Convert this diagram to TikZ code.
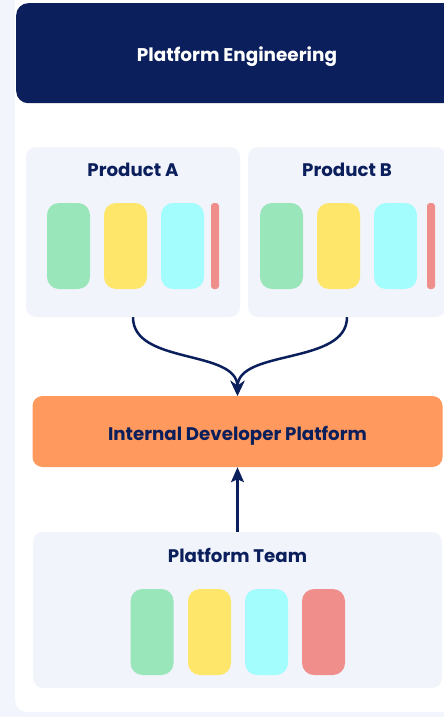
\documentclass[tikz,border=0pt]{standalone}
\usepackage{fontspec}
\setmainfont{Poppins}
\usetikzlibrary{arrows.meta}
\definecolor{bgc}{HTML}{F3F5FD}
\definecolor{navy}{HTML}{0A1F5B}
\definecolor{card}{HTML}{F2F4FC}
\definecolor{idpc}{HTML}{FF995D}
\definecolor{pg}{HTML}{98E6B9}
\definecolor{py}{HTML}{FEE66A}
\definecolor{pc}{HTML}{A2FDFC}
\definecolor{pr}{HTML}{EF8E8B}
\begin{document}
\begin{tikzpicture}[x=1pt,y=-1pt,
  cardbox/.style={fill=card, rounded corners=10pt, inner sep=0pt},
  pill/.style={rounded corners=12pt, minimum width=43pt, minimum height=86pt, inner sep=0pt},
  thinbar/.style={fill=pr, rounded corners=3pt, minimum width=8pt, minimum height=86pt, inner sep=0pt},
  title/.style={font=\bfseries\fontsize{18.2}{21}\selectfont, text=navy, anchor=base, inner sep=0pt},
  link/.style={draw=navy, line width=2.5pt, -{Stealth[length=15pt,width=14pt,inset=5pt]}},
  uplink/.style={draw=navy, line width=2.2pt, -{Stealth[length=15pt,width=13pt,inset=3pt]}}]
\useasboundingbox (0,0) rectangle (444,717);
\clip (0,0) rectangle (444,717);
\fill[bgc] (0,0) rectangle (444,717);
\fill[white, rounded corners=12pt] (15,-20) rectangle (480,712);
% header
\node[fill=navy, rounded corners=12pt, minimum width=470pt, minimum height=100pt, inner sep=0pt, anchor=north west] (hdr) at (16,3) {};
\node[font=\bfseries\fontsize{18.4}{21}\selectfont, text=white, anchor=base, inner sep=0pt] (hdrt) at (237,62) {Platform Engineering};
% product cards
\node[cardbox, minimum width=214pt, minimum height=170pt] (pa) at (133,232) {};
\node[cardbox, minimum width=198pt, minimum height=170pt] (pb) at (347,232) {};
\node[title] (pat) at (133,176) {Product A};
\node[title] (pbt) at (347,176) {Product B};
\node[pill, fill=pg] (pa1) at (68.5,246) {};
\node[pill, fill=py] (pa2) at (125.5,246) {};
\node[pill, fill=pc] (pa3) at (182.5,246) {};
\node[thinbar] (pa4) at (215,246) {};
\node[pill, fill=pg] (pb1) at (281.5,246) {};
\node[pill, fill=py] (pb2) at (338.5,246) {};
\node[pill, fill=pc] (pb3) at (395.5,246) {};
\node[thinbar] (pb4) at (431,246) {};
% IDP
\node[fill=idpc, rounded corners=10pt, minimum width=410pt, minimum height=71pt, inner sep=0pt] (idp) at (237.5,431.5) {};
\node[title] (idpt) at (237.5,440) {Internal Developer Platform};
% platform team
\node[cardbox, minimum width=409pt, minimum height=156pt] (pt) at (237.5,610) {};
\node[title] (ptt) at (237.5,562) {Platform Team};
\node[pill, fill=pg] (pt1) at (152,632) {};
\node[pill, fill=py] (pt2) at (209.5,632) {};
\node[pill, fill=pc] (pt3) at (266.5,632) {};
\node[pill, fill=pr] (pt4) at (323.5,632) {};
% connectors
\draw[link] (pa.south) .. controls ++(0,48) and ++(0,-47) .. (idp.north);
\draw[link] (pb.south) .. controls ++(0,48) and ++(0,-47) .. (idp.north);
\draw[uplink] (pt.north) -- (idp.south);
\end{tikzpicture}
\end{document}
